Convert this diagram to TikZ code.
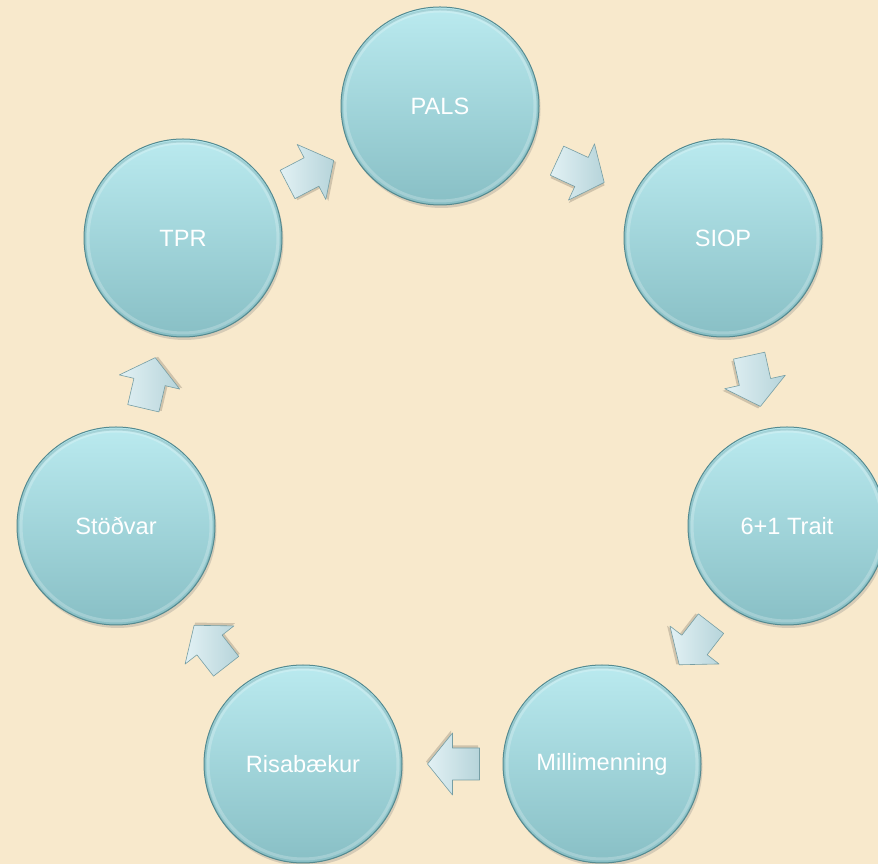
\documentclass[tikz,border=0pt]{standalone}
\usepackage{fontspec}
\setmainfont{Liberation Sans}
\usetikzlibrary{calc,shadows}
\definecolor{bg}{RGB}{248,233,204}
\definecolor{circtop}{RGB}{186,234,239}
\definecolor{circbot}{RGB}{136,191,197}
\definecolor{circedge}{RGB}{84,138,144}
\definecolor{arrlight}{RGB}{226,241,244}
\definecolor{arrdark}{RGB}{182,212,218}
\definecolor{arredge}{RGB}{118,158,164}
\begin{document}
\begin{tikzpicture}[x=1pt,y=1pt,
  stage/.style={circle, minimum size=198pt, inner sep=0pt,
    top color=circtop, bottom color=circbot,
    draw=circedge, line width=1pt, text=white,
    font=\fontsize{23.6}{28}\selectfont,
    drop shadow={opacity=0.28, shadow xshift=1.5pt, shadow yshift=-3pt},
    path picture={
      \draw[white, opacity=0.22, line width=3pt]
        (path picture bounding box.center) circle (95pt);
      \draw[circedge, opacity=0.25, line width=2pt]
        ([shift={(0,-1.5pt)}]path picture bounding box.center) circle (98pt);}},
  blockarr/.pic={
    \fill[black, opacity=0.16, xshift=1.5pt, yshift=-2.5pt]
      (-27,-16) -- (0,-16) -- (0,-31) -- (25,0) -- (0,31) -- (0,16) -- (-27,16) -- cycle;
    \shade[left color=arrlight, right color=arrdark, draw=arredge, line width=0.6pt, line join=round]
      (-27,-16) -- (0,-16) -- (0,-31) -- (25,0) -- (0,31) -- (0,16) -- (-27,16) -- cycle;
  }
]
\fill[bg] (0,0) rectangle (878,864);
\useasboundingbox (0,0) rectangle (878,864);
\clip (0,0) rectangle (878,864);

\node[stage] (pals)  at (440,758) {PALS};
\node[stage] (siop)  at (723,626) {SIOP};
\node[stage] (trait) at (787,338) {6+1 Trait};
\node[stage] (mill)  at (602,100) {Millimenning};
\node[stage] (risa)  at (303,100) {Risabækur};
\node[stage] (stod)  at (116,338) {Stöðvar};
\node[stage] (tpr)   at (183,626) {TPR};

\pic[rotate=27.5]  (a1) at ($(tpr)!0.5!(pals)$)   {blockarr};
\pic[rotate=-24.8] (a2) at ($(pals)!0.5!(siop)$)  {blockarr};
\pic[rotate=-77.5] (a3) at ($(siop)!0.5!(trait)$) {blockarr};
\pic[rotate=-127.7](a4) at ($(trait)!0.5!(mill)$) {blockarr};
\pic[rotate=180]   (a5) at ($(mill)!0.5!(risa)$)  {blockarr};
\pic[rotate=128]   (a6) at ($(risa)!0.5!(stod)$)  {blockarr};
\pic[rotate=76.8]  (a7) at ($(stod)!0.5!(tpr)$)   {blockarr};
\end{tikzpicture}
\end{document}
